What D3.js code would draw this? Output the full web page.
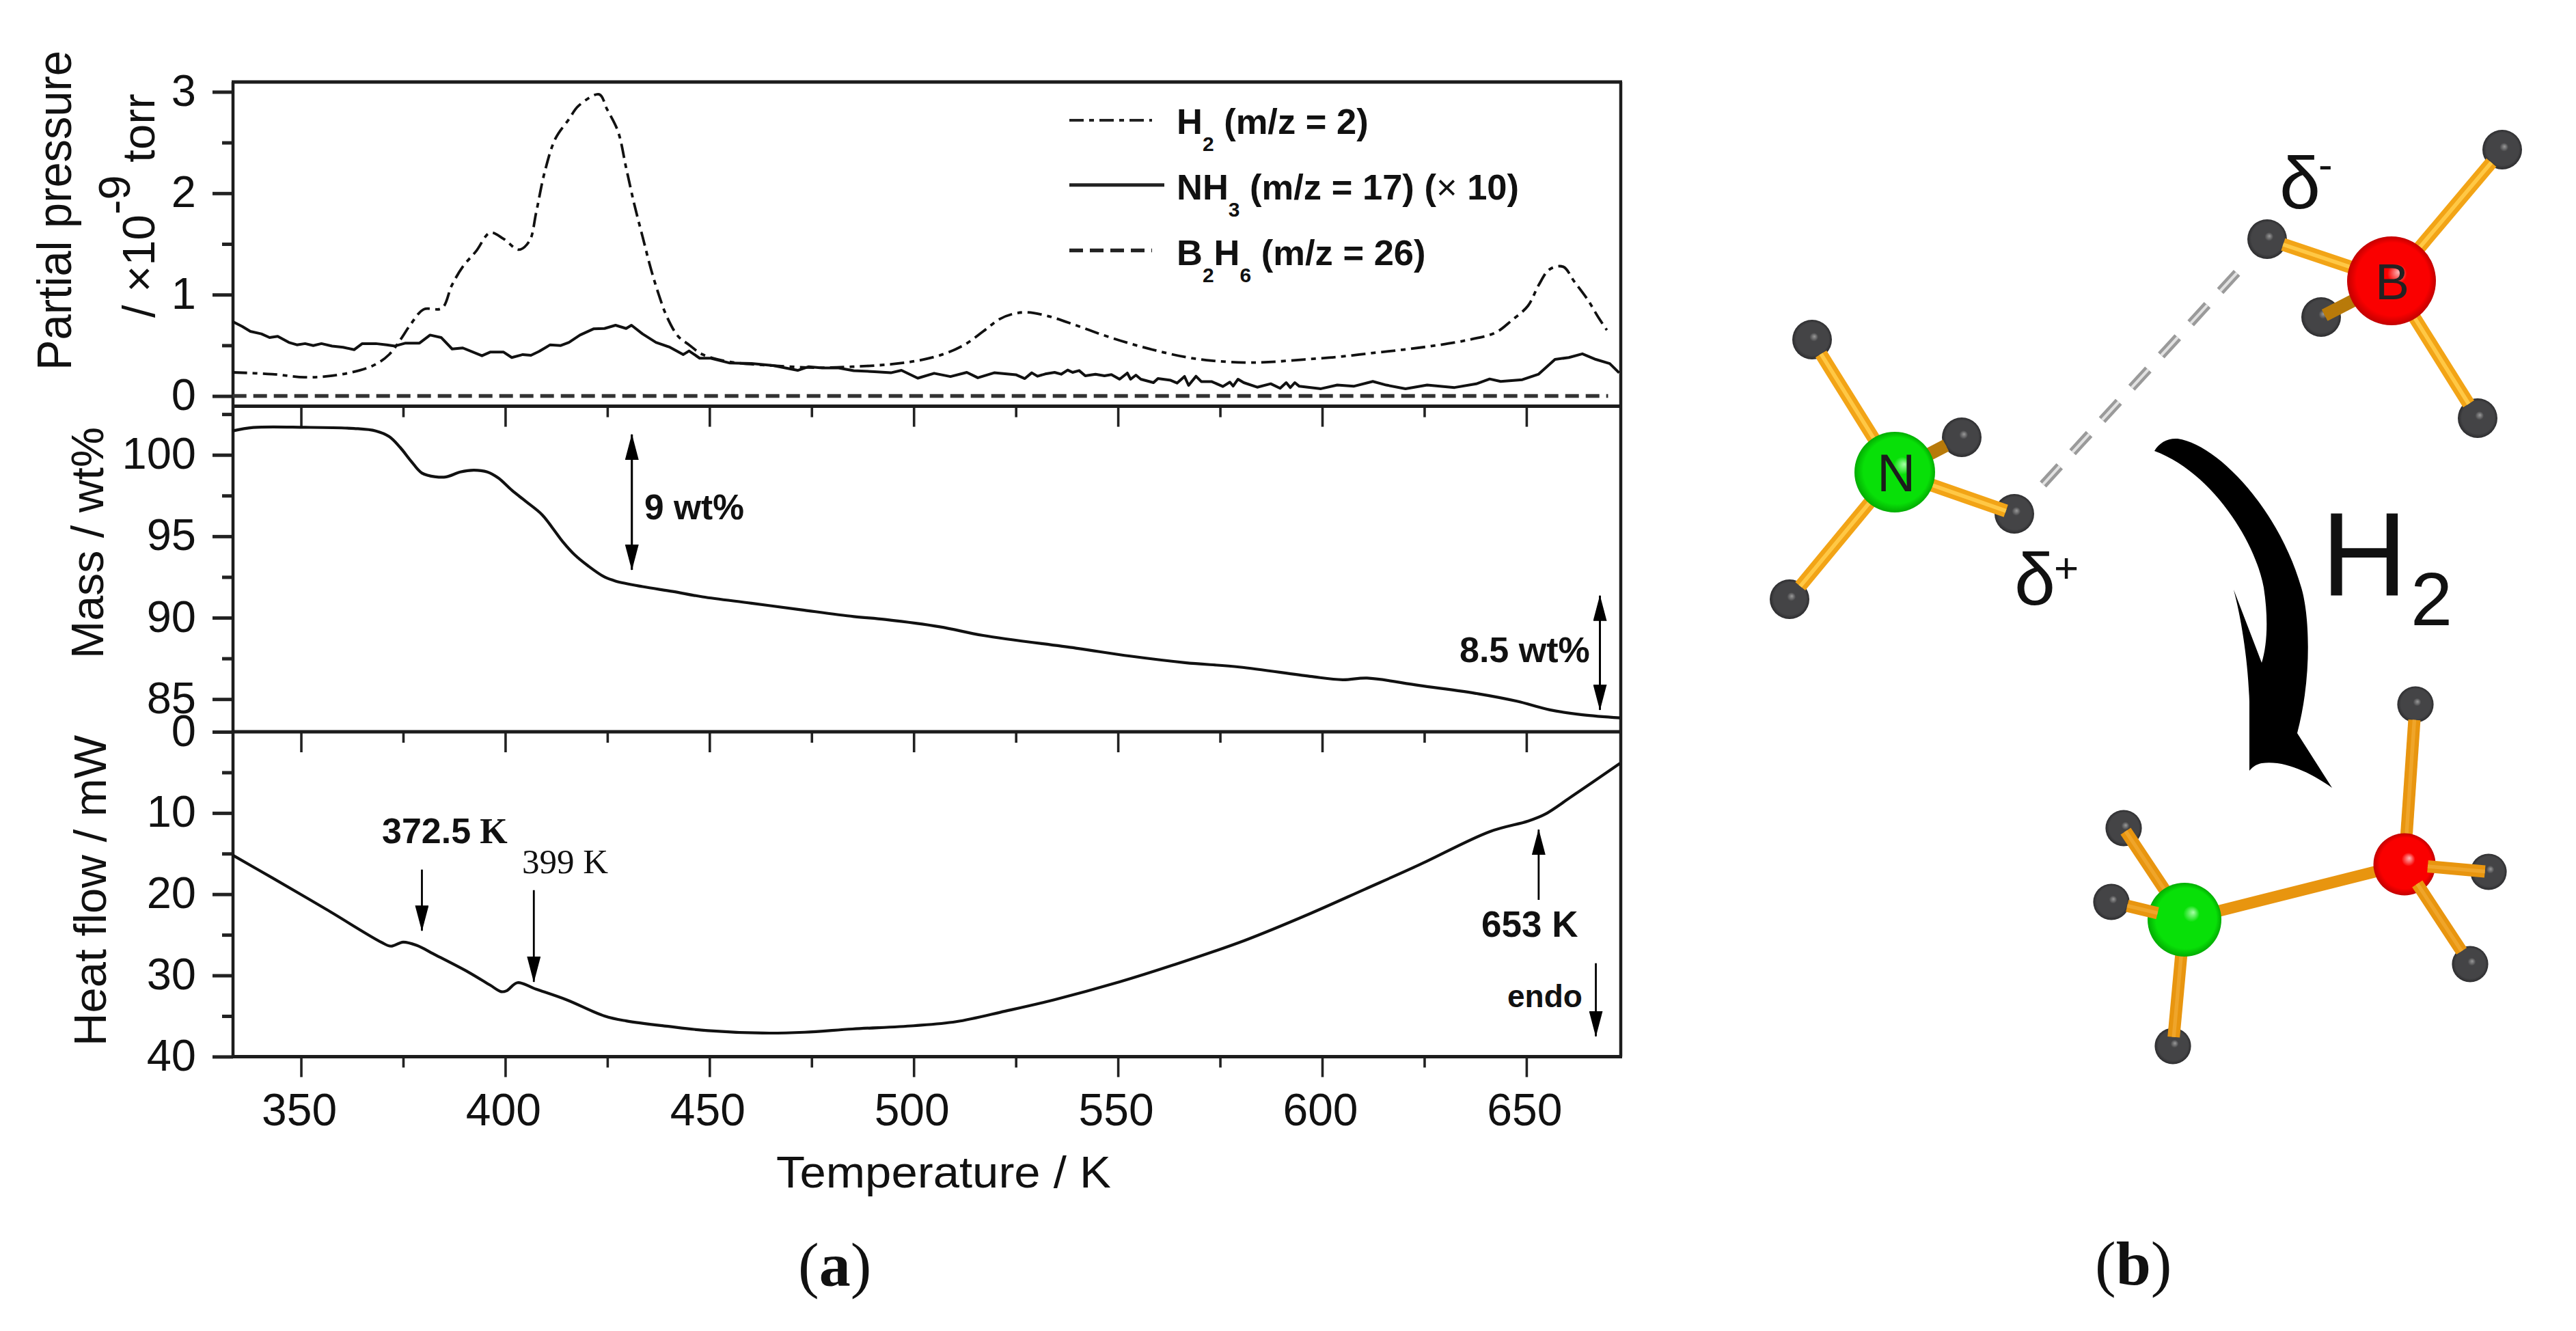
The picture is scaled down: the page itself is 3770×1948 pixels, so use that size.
<!DOCTYPE html>
<html><head><meta charset="utf-8">
<script src="https://cdn.jsdelivr.net/npm/d3@7/dist/d3.min.js"></script>
<style>html,body{margin:0;padding:0;background:#fff}svg{display:block}text{font-family:"Liberation Sans",Arial,sans-serif;fill:#111}</style>
</head><body><svg id="c" width="3770" height="1948" xmlns="http://www.w3.org/2000/svg"></svg>
<script>
// ---- data: [temperature K, value] ----
const h2 = [[333.3,.233],[342.9,.216],[350.9,.185],[357.6,.2],[364.3,.253],[368.3,.313],[371.6,.41],[374.3,.553],[376.9,.71],[380,.854],[384.5,.866],[386.9,1.09],[389.6,1.275],[392.9,1.43],[396.3,1.61],[399.6,1.55],[403.3,1.443],[405.9,1.527],[407.6,1.816],[409.6,2.2],[412.3,2.54],[415.6,2.73],[417.9,2.86],[423,2.975],[424.9,2.83],[427.6,2.61],[429.6,2.25],[431.6,1.89],[433.6,1.575],[435.6,1.263],[437.6,.998],[439.6,.78],[442.3,.59],[445,.505],[448.3,.41],[455,.337],[465.6,.3],[476,.28],[485,.289],[494.4,.313],[501,.349],[507,.409],[512.4,.505],[517,.637],[521,.758],[524.4,.811],[527.7,.825],[533,.787],[539.7,.698],[546.4,.601],[553,.517],[559.7,.445],[566.4,.385],[573,.349],[581,.33],[587.7,.337],[595.7,.361],[603.7,.385],[611.7,.421],[619.7,.457],[627.7,.498],[635.7,.553],[642.4,.625],[646.4,.746],[650.4,.89],[653,1.094],[655.7,1.25],[659,1.275],[661.7,1.13],[665,.95],[667.7,.77],[669.7,.65]];
const nh3 = [[333.3,.734],[335.6,.686],[337.6,.637],[340.3,.613],[342.3,.577],[344.3,.589],[347,.529],[349,.505],[351,.517],[353,.498],[355,.517],[357.6,.493],[360.3,.481],[363,.457],[365,.517],[368.3,.517],[371,.505],[373,.493],[375.6,.522],[379,.522],[381.6,.601],[384.3,.577],[387,.464],[389.6,.474],[394.3,.397],[396.3,.433],[399.6,.433],[401.6,.38],[404.3,.409],[406.3,.402],[408.3,.44],[411,.505],[413.6,.498],[415.6,.529],[418.3,.601],[421.6,.662],[424.3,.666],[427,.698],[429.6,.666],[430.9,.698],[433.6,.613],[436.9,.529],[440.3,.481],[443.6,.409],[445,.445],[447.6,.373],[450.3,.373],[455,.325],[460.3,.32],[465.6,.3],[471.6,.253],[474.3,.289],[477.6,.277],[481.6,.277],[485.3,.25],[490.4,.24],[494.4,.229],[497,.253],[501,.176],[505,.224],[509,.192],[513,.233],[515.7,.18],[519.7,.229],[525,.21],[527.2,.172],[528.9,.229],[530.3,.195],[532.2,.2175],[534.5,.233],[536.1,.215],[537.7,.256],[538.9,.233],[540.5,.251],[542,.2],[544.5,.215],[546.7,.2],[548.4,.211],[550.4,.166],[552.3,.2265],[553.1,.166],[554.4,.206],[555.6,.166],[558.7,.132],[559.8,.173],[562.9,.155],[564.5,.128],[566.3,.193],[567.3,.105],[569.1,.195],[570.4,.143],[572.9,.143],[575.7,.094],[577.4,.137],[578.2,.098],[579.4,.166],[580.8,.132],[584.1,.087],[587.4,.121],[589.7,.076],[591.2,.132],[592.2,.083],[593.3,.132],[594.4,.096],[599.7,.072],[603.7,.108],[607.7,.096],[612.4,.144],[615.7,.108],[620.4,.072],[625.7,.108],[632.4,.084],[637.7,.12],[641,.168],[643.7,.144],[649,.161],[653,.216],[657,.361],[660.4,.38],[663.7,.416],[667,.361],[670.4,.32],[672.7,.229]];
const b2h6 = [[333.3,0],[670,0]];
const mass = [[333.3,101.47],[338.3,101.68],[351,101.69],[363,101.62],[368.3,101.47],[371.6,101.12],[374.3,100.45],[376.9,99.63],[379.6,98.88],[383,98.65],[385.6,98.65],[389,98.95],[392.3,99.06],[395.6,98.95],[398.3,98.58],[401.6,97.83],[405,97.15],[409,96.33],[411.6,95.5],[414.3,94.6],[417,93.86],[420.3,93.18],[424.3,92.5],[427,92.25],[433.6,91.91],[441,91.61],[448.3,91.28],[460.3,90.89],[472.3,90.49],[485.3,90.07],[493,89.89],[506.4,89.44],[517,88.91],[539.7,88.13],[553,87.64],[566.4,87.24],[579.7,86.97],[597,86.4],[605,86.19],[611,86.29],[623.7,85.84],[638.4,85.32],[647.7,84.87],[655.7,84.34],[663.7,84.04],[672.9,83.85]];
const heat = [[333.3,15.2],[343,18],[356.3,21.9],[369.6,25.9],[372,26.4],[375,25.9],[378.3,26.3],[383,27.5],[391,29.6],[396.3,31.2],[399,32],[400.3,31.9],[403,30.9],[407.6,31.7],[415,33],[424.3,35],[429.6,35.6],[440.3,36.3],[449.6,36.8],[463,37.1],[473.3,37],[485,36.6],[500,36.2],[510.4,35.7],[522.4,34.4],[534.4,33],[550.4,30.8],[563.7,28.7],[581,25.7],[597,22.4],[610.4,19.4],[623.7,16.4],[641,12.3],[650.4,11],[654.4,10.2],[661,8],[672.9,3.9]];
const xMajor = [350,400,450,500,550,600,650];
const xMinor = [375,425,475,525,575,625];
const y1Major = [0,1,2,3], y1Minor = [.5,1.5,2.5];
const y2Major = [85,90,95,100], y2Minor = [87.5,92.5,97.5,102.5];
const y3Major = [0,10,20,30,40], y3Minor = [5,15,25,35];
// arrows: [temperature, tail value, head value]
const arrows2 = [[431,101.25,92.94],[431,92.94,101.25],[668,91.35,84.34],[668,84.34,91.35]];
const arrows3 = [[379.6,16.97,24.5],[407,19.5,30.8],[653,20.7,12.05],[667,28.5,37.5]];

const svg = d3.select("#c");
const L=341,R=2372,T1=120,B1=594.6,B2=1071,B3=1546.4;
const x = d3.scaleLinear().domain([333.35,673.1]).range([L,R]);
const y1 = d3.scaleLinear().domain([0,3]).range([579.6,134.4]);
const y2 = d3.scaleLinear().domain([85,100]).range([1023.2,665.7]);
const y3 = d3.scaleLinear().domain([0,40]).range([1071,1546.4]);

const defs = svg.append("defs");
defs.append("marker").attr("id","ah").attr("viewBox","0 0 38 20").attr("refX",37).attr("refY",10)
  .attr("markerUnits","userSpaceOnUse").attr("markerWidth",38).attr("markerHeight",20).attr("orient","auto")
  .append("path").attr("d",d3.line()([[0,0],[38,10],[0,20]])+"Z").attr("fill","#000");
function grad(id,hi,mid,edge,fx,fy){
  const g=defs.append("radialGradient").attr("id",id).attr("cx",.5).attr("cy",.5).attr("r",.5).attr("fx",fx).attr("fy",fy);
  [[0,hi],[.22,mid],[.82,mid],[1,edge]].forEach(s=>g.append("stop").attr("offset",s[0]).attr("stop-color",s[1]));
}
grad("gH","#9a9a9a","#444446","#2c2c2e",.56,.42);
grad("gR","#ffb8b8","#fa0000","#c20000",.58,.4);
grad("gG","#a8ffa8","#08e008","#02ac02",.62,.4);

// axes
function yAxis(scale,major,minor){
  const g=svg.append("g").attr("transform",`translate(${L},0)`);
  const a=g.append("g").call(d3.axisLeft(scale).tickValues(major).tickSize(30).tickFormat(d3.format("d")));
  const b=g.append("g").call(d3.axisLeft(scale).tickValues(minor).tickSize(16).tickFormat(""));
  [a,b].forEach(s=>{s.select(".domain").remove();s.selectAll("line").attr("stroke","#222").attr("stroke-width",5);});
  a.selectAll("text").attr("x",-54).attr("dy",20).attr("text-anchor","end").style("font-size","65px");
}
function xAxis(yPos,labels){
  const g=svg.append("g").attr("transform",`translate(0,${yPos})`);
  const a=g.append("g").call(d3.axisBottom(x).tickValues(xMajor).tickSize(30).tickFormat(labels?d3.format("d"):""));
  const b=g.append("g").call(d3.axisBottom(x).tickValues(xMinor).tickSize(16).tickFormat(""));
  [a,b].forEach(s=>{s.select(".domain").remove();s.selectAll("line").attr("stroke","#222").attr("stroke-width",3.6);});
  a.selectAll("text").attr("y",101).attr("dy",0).attr("text-anchor","middle").attr("dx",-3).style("font-size","66px");
}
xAxis(B1,false);xAxis(B2,false);xAxis(B3,true);
yAxis(y1,y1Major,y1Minor);yAxis(y2,y2Major,y2Minor);yAxis(y3,y3Major,y3Minor);

// frame
const fr=svg.append("g").attr("stroke","#1c1c1c").attr("fill","none");
[[L,T1,R,T1],[L,B1,R,B1],[L,B2,R,B2],[L,B3,R,B3]].forEach(d=>fr.append("line").attr("x1",d[0]-2).attr("y1",d[1]).attr("x2",d[2]+2).attr("y2",d[3]).attr("stroke-width",5));
[[L,T1,L,B3],[R,T1,R,B3]].forEach(d=>fr.append("line").attr("x1",d[0]).attr("y1",d[1]).attr("x2",d[2]).attr("y2",d[3]).attr("stroke-width",4.5));

// curves
function curve(data,ys,w,dash,col,cv){svg.append("path").datum(data)
  .attr("d",d3.line().x(d=>x(d[0])).y(d=>ys(d[1])).curve(cv||d3.curveLinear))
  .attr("fill","none").attr("stroke",col||"#111").attr("stroke-width",w).attr("stroke-dasharray",dash||null).attr("stroke-linejoin","round");}
curve(h2,y1,3.8,"21 8 7 8","#111",d3.curveCatmullRom);
curve(nh3,y1,4);
curve(b2h6,y1,5.5,"20 10","#333");
curve(mass,y2,4.2,null,"#111",d3.curveCatmullRom);
curve(heat,y3,4.2,null,"#111",d3.curveCatmullRom);

// arrows
function arrow(ys,d){svg.append("line").attr("x1",x(d[0])).attr("x2",x(d[0])).attr("y1",ys(d[1])).attr("y2",ys(d[2])).attr("stroke","#000").attr("stroke-width",2.8).attr("marker-end","url(#ah)");}
arrows2.forEach(d=>arrow(y2,d));
arrows3.forEach(d=>arrow(y3,d));

// text helpers
function txt(s,xp,yp,size,opts={}){const t=svg.append("text").attr("x",xp).attr("y",yp).style("font-size",size+"px");
  if(opts.bold)t.style("font-weight","bold");if(opts.anchor)t.attr("text-anchor",opts.anchor);if(opts.serif)t.style("font-family",'"Liberation Serif",serif');
  if(opts.rot)t.attr("transform",`rotate(-90 ${xp} ${yp})`);if(opts.len)t.attr("textLength",opts.len).attr("lengthAdjust","spacingAndGlyphs");if(opts.fill)t.style("fill",opts.fill);
  if(s)t.text(s);return t;}
// axis titles
txt("Temperature / K",1136,1738,65,{len:490});
txt("Partial pressure",104,542,70,{rot:true,len:468});
const pp=txt("",226,465,67,{rot:true});
pp.append("tspan").text("/ ×10");
pp.append("tspan").attr("dy",-36).style("font-size","65px").text("-9");
pp.append("tspan").attr("dy",36).text(" torr");
txt("Mass / wt%",151,964,67,{rot:true,len:339});
txt("Heat flow / mW",155,1531,67,{rot:true,len:455});

// legend
function legLine(y,x2,w,dash){svg.append("line").attr("x1",1565).attr("x2",x2).attr("y1",y).attr("y2",y).attr("stroke","#222").attr("stroke-width",w).attr("stroke-dasharray",dash);}
legLine(176,1686,4,"21 8 7 8");legLine(270.7,1704,5,null);legLine(366.4,1686,5.5,"20 10");
function legText(y,parts){const t=txt("",1722,y,52.5,{bold:true});let down=false;
  parts.forEach(p=>{const sp=t.append("tspan").text(p.s);
    if(p.sub){sp.attr("dy",25).style("font-size","30px");down=true;}
    else{if(down){sp.attr("dy",-25);down=false;}if(p.n)sp.style("font-weight","normal");}});}
legText(196,[{s:"H"},{s:"2",sub:1},{s:" (m/z = 2)"}]);
legText(292,[{s:"NH"},{s:"3",sub:1},{s:" (m/z = 17) ("},{s:"×",n:1},{s:" 10)"}]);
legText(388,[{s:"B"},{s:"2",sub:1},{s:"H"},{s:"6",sub:1},{s:" (m/z = 26)"}]);

// annotations
txt("9 wt%",943,760,51.5,{bold:true});
txt("8.5 wt%",2136,969,52,{bold:true});
const a1=txt("",559,1234,52,{bold:true});a1.append("tspan").text("372.5");a1.append("tspan").style("font-family",'"Liberation Serif",serif').text(" K");
txt("399 K",764,1278,51,{serif:true});
txt("653 K",2168,1371,53,{bold:true});
txt("endo",2206,1474,46,{bold:true});

// panel labels
function panelLabel(xp,yp,ch){const t=txt("",xp,yp,92,{serif:true});t.append("tspan").text("(");t.append("tspan").style("font-weight","bold").text(ch);t.append("tspan").text(")");}
panelLabel(1168,1882,"a");panelLabel(3066,1880,"b");

// panel b: molecules
function molecule(cx,cy,cr,gid,hs,bw,col,dark,hi){
  const P=svg.append("g");
  hs.forEach(h=>{P.append("circle").attr("cx",h.x).attr("cy",h.y).attr("r",h.r).attr("fill","url(#gH)");});
  const bond=(h,k0)=>{const dx=h.x-cx,dy=h.y-cy,dd=Math.hypot(dx,dy),ux=dx/dd,uy=dy/dd,e=dd-h.r*h.k;
    const sx=cx+ux*k0,sy=cy+uy*k0;
    P.append("line").attr("x1",sx).attr("y1",sy).attr("x2",cx+ux*e).attr("y2",cy+uy*e).attr("stroke",h.back?dark:col).attr("stroke-width",bw);
    P.append("line").attr("x1",sx).attr("y1",sy).attr("x2",cx+ux*e).attr("y2",cy+uy*e).attr("stroke",h.back?dark:hi).attr("stroke-width",bw*.3);};
  hs.filter(h=>!h.front).forEach(h=>bond(h,0));
  P.append("circle").attr("cx",cx).attr("cy",cy).attr("r",cr).attr("fill",`url(#${gid})`);
  hs.filter(h=>h.front).forEach(h=>bond(h,cr*.75));
}
const hr=29;
molecule(2773,691,59,"gG",[{x:2652,y:497,r:hr,k:.85},{x:2871,y:640,r:hr,k:.9,back:1},{x:2948,y:752,r:hr,k:.45},{x:2619,y:877,r:hr,k:.85}],19,"#f2a416","#b87a0a","#ffc845");
molecule(3500,411,65,"gR",[{x:3318,y:350,r:hr,k:.85},{x:3397,y:464,r:hr,k:.2,back:1},{x:3662,y:219,r:hr,k:.85},{x:3626,y:612,r:hr,k:.85}],19,"#f2a416","#b87a0a","#ffc845");
// dashed H...H contact
[["#9a9a9a",13],["#e2e2e2",4]].forEach(s=>svg.append("line").attr("x1",2990).attr("y1",709).attr("x2",3277.6).attr("y2",395).attr("stroke",s[0]).attr("stroke-width",s[1]).attr("stroke-dasharray","36 28"));
// product
const hb=26.6;
svg.append("line").attr("x1",3197).attr("y1",1346).attr("x2",3519).attr("y2",1265).attr("stroke","#e8950f").attr("stroke-width",17);
molecule(3197,1346,54,"gG",[{x:3108,y:1212,r:hb,k:.2,front:0},{x:3090,y:1320,r:hb,k:.9,front:1},{x:3180,y:1531,r:hb,k:.5}],18,"#e8950f","#e8950f","#efa52a");
molecule(3519,1265,45.5,"gR",[{x:3535,y:1031,r:hb,k:.85},{x:3642,y:1276,r:hb,k:.2,front:1},{x:3615,y:1411,r:hb,k:.85,front:1}],18,"#e8950f","#e8950f","#efa52a");
txt("N",2747,719,78,{fill:"#1c1c1c"});
txt("B",3476,438,75,{fill:"#222"});
// delta labels
txt("δ",3336,305,108);txt("-",3393,262,62);
txt("δ",2948,885,108);txt("+",3006,852,62);
txt("H",3397,872,175);txt("2",3528,915,110);
// curved arrow
svg.append("path").attr("fill","#000").attr("d","M3153,660 C3160,648 3172,641 3187,642 C3245,650 3335,745 3368,860 C3380,900 3384,990 3362,1073 L3413,1153 C3385,1133 3345,1112 3310,1117 C3300,1119 3296,1124 3292,1128 L3292,1027 C3290,965 3280,905 3269,863 L3310,970 C3318,945 3320,905 3313,860 C3300,790 3235,690 3153,660 Z");
</script></body></html>
